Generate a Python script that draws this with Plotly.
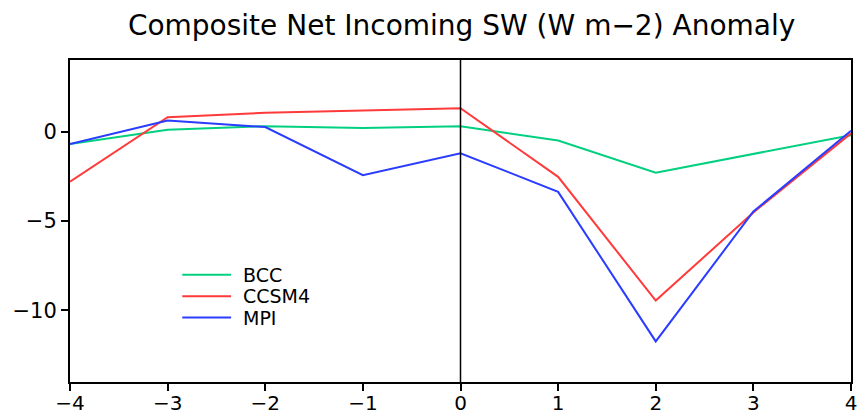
import plotly.graph_objects as go

lags = [-4, -3, -2, -1, 0, 1, 2, 3, 4]
names = ["BCC", "CCSM4", "MPI"]
bcc = [-0.7, 0.1, 0.3, 0.2, 0.3, -0.5, -2.3, -1.25, -0.2]
ccsm4 = [-2.8, 0.8, 1.05, 1.17, 1.3, -2.53, -9.45, -4.52, -0.1]
mpi = [-0.7, 0.62, 0.25, -2.44, -1.21, -3.37, -11.73, -4.47, 0.05]
series = [bcc, ccsm4, mpi]
colors = ["#00d080", "#ff3a3a", "#2a3cff"]
xticks = [-4, -3, -2, -1, 0, 1, 2, 3, 4]
yticks = [-10, -5, 0]
title = "Composite Net Incoming SW (W m\u22122) Anomaly"

# legend placement (data coordinates)
leg_x0, leg_x1, leg_tx = -2.85, -2.35, -2.25
leg_y = [-8.0, -9.2, -10.4]

fig = go.Figure()
for name, vals, col in zip(names, series, colors):
    fig.add_trace(go.Scatter(x=lags, y=vals, mode="lines", name=name,
                             line=dict(color=col, width=2), showlegend=False,
                             cliponaxis=False))

shapes = [dict(type="line", xref="x", yref="paper", x0=0, x1=0, y0=0, y1=1,
               line=dict(color="black", width=1.5))]
annotations = []
for name, col, yy in zip(names, colors, leg_y):
    shapes.append(dict(type="line", xref="x", yref="y", x0=leg_x0, x1=leg_x1,
                       y0=yy, y1=yy, line=dict(color=col, width=2)))
    annotations.append(dict(x=leg_tx, y=yy, xref="x", yref="y", text=name,
                            showarrow=False, xanchor="left", yanchor="middle",
                            font=dict(family="DejaVu Sans", size=19, color="black")))

fig.update_layout(
    width=858, height=414,
    margin=dict(l=70, r=7, t=60, b=32, autoexpand=False),
    paper_bgcolor="white", plot_bgcolor="white",
    title=dict(text=title, x=0.538, xanchor="center", y=0.94, yanchor="middle",
               font=dict(family="DejaVu Sans", size=28, color="black")),
    shapes=shapes, annotations=annotations,
    xaxis=dict(range=[-4, 4], tickvals=xticks, ticks="outside", ticklen=7,
               tickwidth=2, tickcolor="black", showline=True, linewidth=2,
               linecolor="black", mirror=True, showgrid=False, zeroline=False,
               automargin=False, ticklabelstandoff=-5,
               tickfont=dict(family="DejaVu Sans", size=20, color="black")),
    yaxis=dict(range=[-14, 4], tickvals=yticks, ticks="outside", ticklen=7,
               tickwidth=2, tickcolor="black", showline=True, linewidth=2,
               linecolor="black", mirror=True, showgrid=False, zeroline=False,
               automargin=False,
               tickfont=dict(family="DejaVu Sans", size=21, color="black")),
)
fig.write_html("out.html", config={"displayModeBar": False},
               post_script="document.body.style.margin='0';document.body.style.padding='0';")
